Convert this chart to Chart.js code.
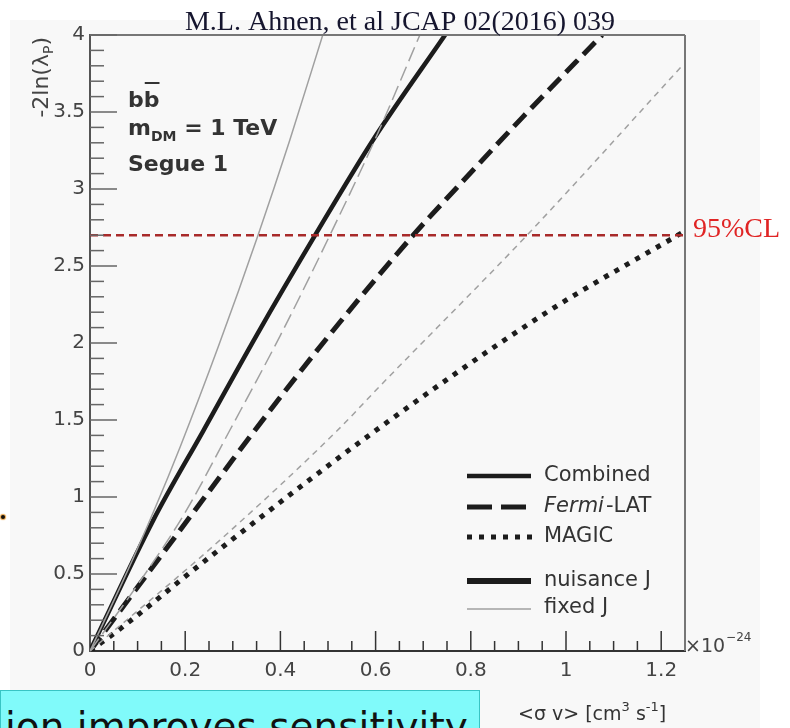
<!DOCTYPE html>
<html>
<head>
<meta charset="utf-8">
<script src="https://cdn.jsdelivr.net/npm/chart.js@4.4.1/dist/chart.umd.min.js"></script>
<style>
  html, body { margin: 0; padding: 0; background: #fff; }
  #wrap { position: relative; width: 790px; height: 728px; overflow: hidden; background: #fff; }
  #panel { position: absolute; left: 10px; top: 20px; width: 750px; height: 708px; background: #f8f8f8; }
  #c { position: absolute; left: 0; top: 0; }
  #note { position: absolute; left: 0; top: 690px; width: 478px; height: 40px; background: #80fafa;
          border: 1px solid #38c4c4; overflow: hidden; }
  #note span { position: absolute; left: 4px; top: 16px; font: 39px 'DejaVu Sans'; line-height: 39px;
               color: #111; white-space: nowrap; }
  #dot { position: absolute; left: 1px; top: 515px; width: 4px; height: 4px; border-radius: 50%;
         background: #111; box-shadow: 0 0 1px 1px #e8a040; }
</style>
</head>
<body>
<div id="wrap">
  <div id="panel"></div>
  <canvas id="c" width="790" height="728"></canvas>
  <div id="dot"></div>
  <div id="note"><span>ion improves sensitivity</span></div>
</div>
<script>
// ticks
const xTicks = [0, 0.2, 0.4, 0.6, 0.8, 1, 1.2];
const xTickLabels = ['0', '0.2', '0.4', '0.6', '0.8', '1', '1.2'];
const yTicks = [0, 0.5, 1, 1.5, 2, 2.5, 3, 3.5, 4];
const yTickLabels = ['0', '0.5', '1', '1.5', '2', '2.5', '3', '3.5', '4'];

// Combined
const combNuisX = [0, 0.133, 0.238, 0.35, 0.473, 0.595, 0.746];
const combNuisY = [0, 0.85, 1.43, 2.05, 2.70, 3.32, 4.0];
const combFixX = [0, 0.07, 0.137, 0.19, 0.27, 0.353, 0.42, 0.489];
const combFixY = [0, 0.46, 0.93, 1.33, 1.98, 2.70, 3.32, 4.0];
// Fermi-LAT
const fermiNuisX = [0, 0.164, 0.28, 0.343, 0.50, 0.679, 0.771, 0.91, 1.076];
const fermiNuisY = [0, 0.68, 1.16, 1.42, 2.04, 2.70, 3.01, 3.47, 4.0];
const fermiFixX = [0, 0.1, 0.2, 0.294, 0.40, 0.504, 0.60, 0.693];
const fermiFixY = [0, 0.43, 0.90, 1.435, 2.05, 2.70, 3.33, 4.0];
// MAGIC
const magicNuisX = [0, 0.07, 0.231, 0.595, 0.96, 1.246];
const magicNuisY = [0, 0.16, 0.56, 1.42, 2.20, 2.72];
const magicFixX = [0, 0.273, 0.519, 0.609, 0.918, 1.244];
const magicFixY = [0, 0.72, 1.43, 1.72, 2.70, 3.80];
// 95% CL
const clX = [0, 1.25];
const clY = [2.7, 2.7];

const pts = (xs, ys) => xs.map((x, i) => ({ x, y: ys[i] }));
const BLACK = '#1c1c1c', GRAY = '#a0a0a0';

function line(ctx, x1, y1, x2, y2) {
  ctx.beginPath(); ctx.moveTo(x1, y1); ctx.lineTo(x2, y2); ctx.stroke();
}

const decor = {
  id: 'decor',
  afterDraw(chart) {
    const { ctx, chartArea: a } = chart;
    const xs = chart.scales.x, ys = chart.scales.y;
    ctx.save();

    // frame top / right
    ctx.strokeStyle = '#777'; ctx.lineWidth = 2;
    line(ctx, a.left, a.top, a.right, a.top);
    line(ctx, a.right, a.top, a.right, a.bottom);

    // inward ticks
    ctx.strokeStyle = '#666'; ctx.lineWidth = 1.5;
    for (let i = 1; i <= 40; i++) {
      const py = ys.getPixelForValue(i / 10);
      line(ctx, a.left, py, a.left + (i % 5 === 0 ? 27 : 14), py);
    }
    ctx.strokeStyle = '#333';
    for (let i = 1; i < 25; i++) {
      const px = xs.getPixelForValue(i * 0.05);
      line(ctx, px, a.bottom, px, a.bottom - (i % 4 === 0 ? 20 : 10));
    }

    // title
    ctx.fillStyle = '#15152e';
    ctx.font = '28px "Liberation Serif"';
    ctx.textAlign = 'center'; ctx.textBaseline = 'alphabetic';
    ctx.fillText('M.L. Ahnen, et al JCAP 02(2016) 039', 400, 30);

    // 95%CL
    ctx.fillStyle = '#e02424';
    ctx.textAlign = 'left';
    ctx.fillText('95%CL', a.right + 8, ys.getPixelForValue(2.7) + 2);

    // y title
    ctx.save();
    ctx.translate(48, 37); ctx.rotate(-Math.PI / 2);
    ctx.fillStyle = '#444';
    ctx.font = '22px "DejaVu Sans"';
    const p1 = '-2ln(λ', p3 = ')';
    const w1 = ctx.measureText(p1).width, w3 = ctx.measureText(p3).width;
    ctx.font = '14px "DejaVu Sans"';
    const w2 = ctx.measureText('P').width;
    const x0 = -(w1 + w2 + w3);
    ctx.font = '22px "DejaVu Sans"'; ctx.fillText(p1, x0, 0);
    ctx.font = '14px "DejaVu Sans"'; ctx.fillText('P', x0 + w1, 5);
    ctx.font = '22px "DejaVu Sans"'; ctx.fillText(p3, x0 + w1 + w2, 0);
    ctx.restore();

    // annotation
    ctx.fillStyle = '#333';
    ctx.font = 'bold 22px "DejaVu Sans"';
    ctx.fillText('bb', 128, 107);
    const wb = ctx.measureText('b').width;
    ctx.strokeStyle = '#333'; ctx.lineWidth = 2;
    line(ctx, 128 + wb + 1, 83, 128 + 2 * wb, 83);
    ctx.fillText('m', 128, 135);
    const wm = ctx.measureText('m').width;
    ctx.font = 'bold 14px "DejaVu Sans"';
    ctx.fillText('DM', 128 + wm, 141);
    const wdm = ctx.measureText('DM').width;
    ctx.font = 'bold 22px "DejaVu Sans"';
    ctx.fillText(' = 1 TeV', 128 + wm + wdm, 135);
    ctx.fillText('Segue 1', 128, 171);

    // x title
    ctx.fillStyle = '#333';
    let tx = 518;
    const seg = (t, size, dy) => {
      ctx.font = size + 'px "DejaVu Sans"';
      ctx.fillText(t, tx, 720 + dy);
      tx += ctx.measureText(t).width;
    };
    seg('<σ v> [cm', 19, 0); seg('3', 13, -9); seg(' s', 19, 0); seg('-1', 13, -9); seg(']', 19, 0);

    // x10^-24
    tx = a.right;
    ctx.fillStyle = '#444';
    ctx.font = '19px "DejaVu Sans"';
    ctx.fillText('×10', tx, 652);
    tx += ctx.measureText('×10').width;
    ctx.font = '12px "DejaVu Sans"';
    ctx.fillText('−24', tx + 1, 641);

    // legend
    const lx1 = 467, lx2 = 531, ltx = 544;
    ctx.lineCap = 'butt';
    ctx.textBaseline = 'middle';
    ctx.strokeStyle = BLACK;
    ctx.lineWidth = 4.5; ctx.setLineDash([]);
    line(ctx, lx1, 476, lx2, 476);
    ctx.setLineDash([25, 9]); ctx.lineWidth = 5;
    line(ctx, lx1, 507, lx2 + 2, 507);
    ctx.setLineDash([5, 7]);
    line(ctx, lx1, 537, lx2 + 2, 537);
    ctx.setLineDash([]); ctx.lineWidth = 6;
    line(ctx, lx1, 581, lx2, 581);
    ctx.strokeStyle = GRAY; ctx.lineWidth = 1.5;
    line(ctx, lx1, 609, lx2, 609);

    ctx.fillStyle = '#333';
    ctx.font = '21px "DejaVu Sans"';
    ctx.fillText('Combined', ltx, 476);
    ctx.font = 'italic 21px "DejaVu Sans"';
    ctx.fillText('Fermi', ltx, 507);
    const wf = ctx.measureText('Fermi').width;
    ctx.font = '21px "DejaVu Sans"';
    ctx.fillText('-LAT', ltx + wf + 2, 507);
    ctx.fillText('MAGIC', ltx, 537);
    ctx.fillText('nuisance J', ltx, 581);
    ctx.fillText('fixed J', ltx, 608);

    ctx.restore();
  }
};

new Chart(document.getElementById('c'), {
  type: 'line',
  data: {
    datasets: [
      { data: pts(clX, clY), borderColor: '#a82a2a', borderWidth: 2.5, borderDash: [8, 5] },
      { data: pts(combFixX, combFixY), borderColor: GRAY, borderWidth: 1.5 },
      { data: pts(fermiFixX, fermiFixY), borderColor: GRAY, borderWidth: 1.5, borderDash: [15, 6] },
      { data: pts(magicFixX, magicFixY), borderColor: GRAY, borderWidth: 1.5, borderDash: [6, 5] },
      { data: pts(combNuisX, combNuisY), borderColor: BLACK, borderWidth: 4.5 },
      { data: pts(fermiNuisX, fermiNuisY), borderColor: BLACK, borderWidth: 5, borderDash: [17, 8] },
      { data: pts(magicNuisX, magicNuisY), borderColor: BLACK, borderWidth: 5, borderDash: [5, 7] }
    ]
  },
  options: {
    responsive: false,
    animation: false,
    layout: { padding: { left: 0, top: 35, right: 105, bottom: 0 } },
    plugins: { legend: { display: false }, tooltip: { enabled: false } },
    elements: {
      point: { radius: 0 },
      line: { cubicInterpolationMode: 'monotone', borderCapStyle: 'butt', fill: false }
    },
    scales: {
      x: {
        type: 'linear', min: 0, max: 1.25,
        grid: { display: false, drawTicks: false },
        border: { display: true, color: '#333', width: 2 },
        afterBuildTicks: s => { s.ticks = xTicks.map(v => ({ value: v })); },
        afterFit: s => { s.height = 77; },
        ticks: {
          padding: 8, color: '#444', maxRotation: 0, autoSkip: false,
          font: { family: 'DejaVu Sans', size: 20 },
          callback: (v, i) => xTickLabels[i]
        }
      },
      y: {
        type: 'linear', min: 0, max: 4,
        grid: { display: false, drawTicks: false },
        border: { display: true, color: '#555', width: 2 },
        afterBuildTicks: s => { s.ticks = yTicks.map(v => ({ value: v })); },
        afterFit: s => { s.width = 90; },
        ticks: {
          padding: 5, color: '#444', autoSkip: false,
          font: { family: 'DejaVu Sans', size: 20 },
          callback: (v, i) => yTickLabels[i]
        }
      }
    }
  },
  plugins: [decor]
});
</script>
</body>
</html>
